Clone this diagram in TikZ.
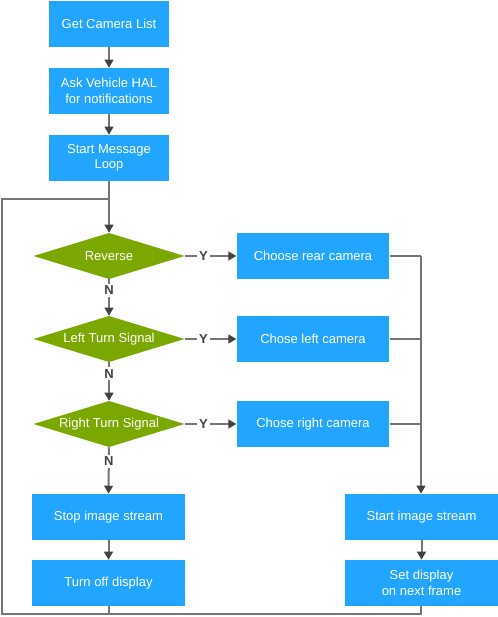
\documentclass[tikz,border=0pt]{standalone}
\usepackage{fontspec}
\setmainfont{Liberation Sans}
\usetikzlibrary{arrows.meta}
\definecolor{boxblue}{HTML}{21A5FF}
\definecolor{decgreen}{HTML}{7AA800}
\definecolor{linegray}{HTML}{757575}
\definecolor{tipgray}{HTML}{424242}
\tikzset{
  x=0.75pt, y=-0.75pt,
  box/.style={rectangle, fill=boxblue, text=white, minimum height=34.5pt, inner sep=0pt, align=center, font=\fontsize{9.75}{11.5}\selectfont},
  smallbox/.style={box, minimum width=90pt},
  widebox/.style={box, minimum width=114.5pt},
  decision/.style={rectangle, minimum width=113.25pt, minimum height=34.5pt, inner sep=0pt, text=white, font=\fontsize{9.75}{11.5}\selectfont,
    path picture={\fill[decgreen] (path picture bounding box.north) -- (path picture bounding box.east) -- (path picture bounding box.south) -- (path picture bounding box.west) -- cycle;}},
  conn/.style={draw=linegray, line width=1.5pt},
  arr/.style={conn, -{Triangle[length=6pt,width=6.5pt,color=tipgray]}},
  lbl/.style={fill=white, text=tipgray, font=\bfseries\fontsize{9.75}{11}\selectfont, inner sep=1.5pt},
}
\begin{document}
\begin{tikzpicture}
\useasboundingbox (0,0) rectangle (498,617);
% left column
\node[smallbox] (camlist) at (109,24) {Get Camera List};
\node[smallbox] (askhal) at (109,91) {Ask Vehicle HAL\\for notifications};
\node[smallbox] (loop) at (109,158) {Start Message\\Loop};
\node[decision] (reverse) at (109,256) {Reverse};
\node[decision] (left) at (109,339) {Left Turn Signal};
\node[decision] (right) at (109,424) {Right Turn Signal};
\node[widebox] (stop) at (108.5,517) {Stop image stream};
\node[widebox] (off) at (108.5,583) {Turn off display};
% right column
\node[widebox] (rear) at (313,256) {Choose rear camera};
\node[widebox] (lcam) at (313,339) {Chose left camera};
\node[widebox] (rcam) at (313,424) {Chose right camera};
\node[widebox] (start) at (421.5,517) {Start image stream};
\node[widebox] (setdisp) at (421.5,583) {Set display\\on next frame};
% helper coordinates
\coordinate (loopjoin) at (109,199);
\coordinate (merge) at (421,256);
\coordinate (bl) at (2,614);
\coordinate (br) at (421,614);
\coordinate (tl) at (2,199);
% top chain
\draw[arr] (camlist) -- (askhal);
\draw[arr] (askhal) -- (loop);
\draw[arr] (loop) -- (reverse);
% decisions
\draw[arr] (reverse.east) -- node[lbl, pos=0.36] {Y} (rear.west);
\draw[arr] (left.east) -- node[lbl, pos=0.36] {Y} (lcam.west);
\draw[arr] (right.east) -- node[lbl, pos=0.36] {Y} (rcam.west);
\draw[arr] (reverse.south) -- node[lbl, pos=0.3] {N} (left.north);
\draw[arr] (left.south) -- node[lbl, pos=0.3] {N} (right.north);
\draw[arr] (right.south) -- node[lbl, pos=0.3] {N} (stop.north);
% merge to start
\draw[conn] (rear.east) -- (merge);
\draw[conn] (lcam.east) -- (lcam.east -| merge);
\draw[conn] (rcam.east) -- (rcam.east -| merge);
\draw[arr] (merge) -- (merge |- start.north);
% bottom chains
\draw[arr] (stop) -- (off);
\draw[arr] (start) -- (setdisp);
% loop back
\draw[conn] (setdisp.south -| br) -- (br) -- (bl) -- (tl) -- (loopjoin);
\draw[conn] (off.south -| loopjoin) -- (loopjoin |- bl);
\end{tikzpicture}
\end{document}
